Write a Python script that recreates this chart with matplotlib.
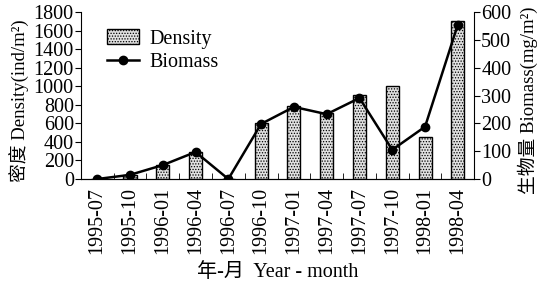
import numpy as np
import matplotlib
matplotlib.use('Agg')
import matplotlib.pyplot as plt

plt.rcParams['font.family'] = ['Liberation Serif', 'Noto Sans CJK SC']
plt.rcParams['hatch.color'] = '#777777'
plt.rcParams['hatch.linewidth'] = 0.6

months = ['1995-07', '1995-10', '1996-01', '1996-04', '1996-07', '1996-10',
          '1997-01', '1997-04', '1997-07', '1997-10', '1998-01', '1998-04']
density = [5, 40, 150, 290, 0, 600, 790, 710, 905, 1000, 455, 1705]
biomass = [0, 15, 50, 97, 0, 198, 259, 233, 291, 105, 188, 555]

fs = 14.5
fig = plt.figure(figsize=(5.42, 2.86), dpi=100)
ax = fig.add_axes([0.149, 0.374, 0.726, 0.584])
x = np.arange(len(months))

ax.bar(x, density, width=0.4, facecolor='#e0e0e0', edgecolor='black',
       linewidth=1.0, hatch='......', label='Density')
ax.set_ylim(0, 1800)
ax.set_yticks(range(0, 1801, 200))
ax.set_xlim(-0.5, len(months) - 0.5)
ax.set_xticks(x)
ax.set_xticklabels(months, rotation=90, fontsize=fs)
ax.set_xticks(np.arange(-0.5, len(months), 1), minor=True)
ax.tick_params(axis='x', which='major', length=0, pad=6)
ax.tick_params(axis='x', which='minor', direction='in', length=4)
ax.tick_params(axis='y', labelsize=fs, pad=1, length=4)
ax.set_ylabel('密度 Density(ind/m²)', fontsize=13.5, labelpad=1)
ax.yaxis.set_label_coords(-0.13, 0.47)
ax.set_xlabel('年-月  Year - month', fontsize=fs, labelpad=6)
ax.spines['top'].set_visible(False)
ax.spines['right'].set_visible(False)

ax2 = ax.twinx()
ax2.plot(x, biomass, color='black', lw=1.8, marker='o', ms=6, label='Biomass')
ax2.set_ylim(0, 600)
ax2.set_yticks(range(0, 601, 100))
ax2.tick_params(axis='y', labelsize=fs, pad=1, length=4)
ax2.set_ylabel('生物量 Biomass(mg/m²)', fontsize=13.5, labelpad=1)
ax2.yaxis.set_label_coords(1.11, 0.47)
ax2.spines['top'].set_visible(False)
ax2.spines['left'].set_visible(False)

h1, l1 = ax.get_legend_handles_labels()
h2, l2 = ax2.get_legend_handles_labels()
ax.legend(h1 + h2, l1 + l2, loc='upper left', bbox_to_anchor=(0.03, 0.98),
          frameon=False, fontsize=fs, handlelength=1.6, labelspacing=0.2,
          handletextpad=0.5, borderpad=0.2)

fig.savefig('out.png', dpi=100)
